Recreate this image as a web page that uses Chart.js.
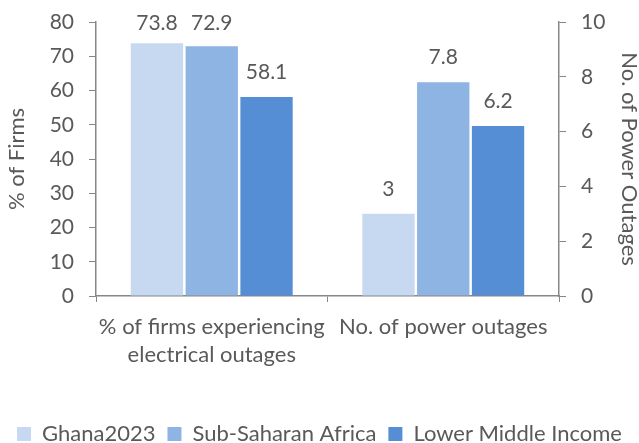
<!DOCTYPE html>
<html>
<head>
<meta charset="utf-8">
<script src="https://cdn.jsdelivr.net/npm/chart.js@4"></script>
<style>
    html, body { margin: 0; padding: 0; background: #fff; }
    #wrap { width: 639px; height: 443px; position: relative; }
</style>
</head>
<body>
<div id="wrap"><canvas id="outages_chart"></canvas></div>
<script>
// chart data
const categories = [['% of firms experiencing', 'electrical outages'], 'No. of power outages'];
const seriesNames = ['Ghana2023', 'Sub-Saharan Africa', 'Lower Middle Income'];
const pctFirms = [73.8, 72.9, 58.1];   // % of firms, left axis
const powerOutages = [3, 7.8, 6.2];    // no. of outages, right axis
const leftAxis = { min: 0, max: 80, step: 10, title: '% of Firms' };
const rightAxis = { min: 0, max: 10, step: 2, title: 'No. of Power Outages' };

const COLORS = {
    SERIES: ['#C6D9F1', '#8EB4E3', '#558ED5'],
    TEXT: '#595959',
    AXIS: '#878787'
};
const FONT = 'Lato, "Open Sans", sans-serif';

// one dataset per series and axis; skipNull keeps three bars per category
const makeSet = (name, i, data, axis) => ({
    label: name,
    data: data,
    yAxisID: axis,
    backgroundColor: COLORS.SERIES[i],
    borderWidth: 0,
    skipNull: true,
    categoryPercentage: 0.71,
    barPercentage: 0.955
});
const leftSets = seriesNames.map((name, i) => makeSet(name, i, [pctFirms[i], null], 'y'));
const rightSets = seriesNames.map((name, i) => makeSet(name, i, [null, powerOutages[i]], 'y1'));

const valueLabels = {
    id: 'valueLabels',
    afterDatasetsDraw(chart) {
        const ctx = chart.ctx;
        ctx.save();
        ctx.font = '21px ' + FONT;
        ctx.fillStyle = COLORS.TEXT;
        ctx.textAlign = 'center';
        ctx.textBaseline = 'alphabetic';
        chart.data.datasets.forEach((ds, di) => {
            const meta = chart.getDatasetMeta(di);
            meta.data.forEach((bar, idx) => {
                const v = ds.data[idx];
                if (v === null || v === undefined) return;
                // keep labels of the tallest bars inside the canvas
                const y = Math.max(bar.y - 18, chart.chartArea.top + 8);
                ctx.fillText(String(v), bar.x, y);
            });
        });
        ctx.restore();
    }
};

// small lineHeight only trims the layout padding of the vertical axes
const tickFont = { family: FONT, size: 21, lineHeight: 0.2 };
const titleFont = { family: FONT, size: 22 };

const axisGrid = {
    drawOnChartArea: false,
    tickLength: 7,
    color: COLORS.AXIS
};
const axisBorder = { display: true, color: COLORS.AXIS, width: 1.5 };

const config = {
    type: 'bar',
    data: {
        labels: categories,
        datasets: [...leftSets, ...rightSets]
    },
    options: {
        responsive: true,
        maintainAspectRatio: false,
        animation: false,
        layout: { padding: { top: 22, left: 0, right: 0, bottom: -12 } },
        plugins: {
            tooltip: { enabled: false },
            legend: {
                display: true,
                position: 'bottom',
                labels: {
                    filter: (item) => item.datasetIndex < seriesNames.length,
                    color: COLORS.TEXT,
                    font: { family: FONT, size: 22 },
                    boxWidth: 14,
                    boxHeight: 14,
                    padding: 12
                }
            }
        },
        scales: {
            x: {
                grid: {
                    drawOnChartArea: false,
                    drawTicks: true,
                    tickLength: 6,
                    color: COLORS.AXIS
                },
                border: axisBorder,
                ticks: {
                    color: COLORS.TEXT,
                    font: { family: FONT, size: 22, lineHeight: 1.27 },
                    padding: 11,
                    maxRotation: 0,
                    autoSkip: false
                },
                afterFit: (scale) => { scale.height = 115; }
            },
            y: {
                position: 'left',
                min: leftAxis.min,
                max: leftAxis.max,
                grid: axisGrid,
                border: axisBorder,
                ticks: {
                    stepSize: leftAxis.step,
                    color: COLORS.TEXT,
                    font: tickFont,
                    padding: 15
                },
                title: {
                    display: true,
                    text: leftAxis.title,
                    color: COLORS.TEXT,
                    font: titleFont,
                    padding: { top: 4, bottom: 0 }
                },
                afterFit: (scale) => { scale.width = 96; }
            },
            y1: {
                position: 'right',
                min: rightAxis.min,
                max: rightAxis.max,
                grid: axisGrid,
                border: axisBorder,
                ticks: {
                    stepSize: rightAxis.step,
                    color: COLORS.TEXT,
                    font: tickFont,
                    padding: 15
                },
                title: {
                    display: true,
                    text: rightAxis.title,
                    color: COLORS.TEXT,
                    font: titleFont,
                    padding: { top: -3, bottom: 0 }
                },
                afterFit: (scale) => { scale.width = 80; }
            }
        }
    },
    plugins: [valueLabels]
};

const chart = new Chart(document.getElementById('outages_chart'), config);
</script>
</body>
</html>
